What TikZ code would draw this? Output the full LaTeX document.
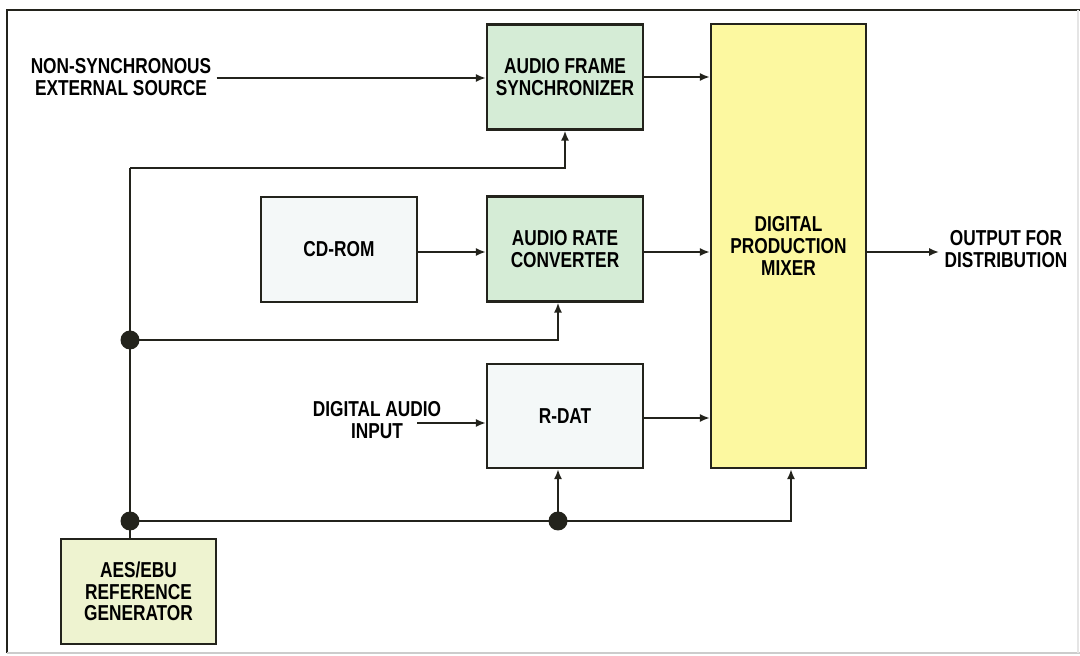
\documentclass[tikz,border=0pt]{standalone}
\usepackage{fontspec}
\setmainfont{Liberation Sans}[FakeStretch=0.8]
\usetikzlibrary{arrows.meta}
\definecolor{linec}{HTML}{23231C}
\definecolor{greenfill}{HTML}{D5ECD6}
\definecolor{yellowfill}{HTML}{FCF8A0}
\definecolor{palefill}{HTML}{F4F8F8}
\definecolor{aesfill}{HTML}{EEF3D0}
\tikzset{
  blk/.style={draw=linec, line width=1.05pt, minimum width=78pt, minimum height=52.5pt, inner sep=0pt, align=center, font=\bfseries\fontsize{10.8}{10.8}\selectfont},
  lbl/.style={align=center, inner sep=2.5pt, font=\bfseries\fontsize{10.8}{10.8}\selectfont},
  wire/.style={draw=linec, line width=1.05pt},
  arr/.style={wire, -{Latex[length=5pt,width=4pt]}},
  dot/.style={circle, fill=linec, minimum size=9.5pt, inner sep=0pt}
}
\begin{document}
\begin{tikzpicture}[x=0.5pt,y=-0.5pt]
\useasboundingbox (0,0) rectangle (1080,656);
% frame
\draw[line width=1.05pt, linec] (7,653) -- (7,10) -- (1080,10);
\draw[line width=0.6pt, black!20] (7,653) -- (1080,653);
\draw[line width=0.6pt, black!10] (1078,10) -- (1078,653);
% blocks
\node[blk, fill=greenfill] (fs) at (565,77) {AUDIO FRAME\\SYNCHRONIZER};
\node[blk, fill=greenfill] (arc) at (565,249) {AUDIO RATE\\CONVERTER};
\node[blk, fill=palefill] (cd) at (339,249.5) {CD-ROM};
\node[blk, fill=palefill, minimum height=52pt] (rdat) at (565,416) {R-DAT};
\node[blk, fill=yellowfill, minimum width=77.5pt, minimum height=222pt] (mix) at (788.5,246) {DIGITAL\\PRODUCTION\\MIXER};
\node[blk, fill=aesfill, minimum width=77.5pt] (aes) at (138.5,591.5) {AES/EBU\\REFERENCE\\GENERATOR};
% labels
\node[lbl] (ns) at (121,77) {NON-SYNCHRONOUS\\EXTERNAL SOURCE};
\node[lbl] (out) at (1006,249) {OUTPUT FOR\\DISTRIBUTION};
\node[lbl] (dai) at (377,420) {DIGITAL AUDIO\\INPUT};
\coordinate (dain) at (417,423);
% dots and corners
\node[dot] (d1) at (130,340) {};
\node[dot] (d2) at (130,521) {};
\node[dot] (d3) at (558,521) {};
\coordinate (c1) at (130,168);
% signal connectors
\draw[arr] (ns.east |- 0,78) -- (fs.west |- 0,78);
\draw[arr] (fs.east) -- (fs.east -| mix.west);
\draw[arr] (cd.east |- 0,252) -- (arc.west |- 0,252);
\draw[arr] (arc.east |- 0,252) -- (mix.west |- 0,252);
\draw[arr] (rdat.east |- 0,418) -- (mix.west |- 0,418);
\draw[arr] (dain) -- (rdat.west |- dain);
\draw[arr] (mix.east |- 0,252) -- (out.west |- 0,252);
% reference bus
\draw[wire] (aes.north -| d2) -- (d2.center) -- (d1.center) -- (c1);
\draw[arr] (c1) -| (fs.south);
\draw[arr] (d1.center) -| (d3 |- arc.south);
\draw[arr] (d2.center) -| (mix.south -| 791,0);
\draw[arr] (d3.center) -- (d3 |- rdat.south);
\end{tikzpicture}
\end{document}
